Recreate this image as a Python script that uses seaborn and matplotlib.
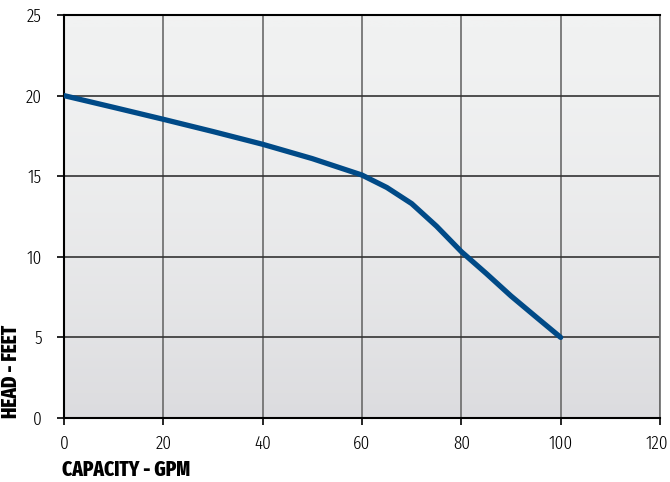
import numpy as np
import pandas as pd
import matplotlib
matplotlib.use("Agg")
import matplotlib.pyplot as plt
import matplotlib.transforms as mtransforms
import seaborn as sns
from matplotlib.colors import LinearSegmentedColormap

# Pump curve
capacity_gpm = [0, 10, 20, 30, 40, 50, 60, 65, 70, 75, 80, 85, 90, 95, 100]
head_feet = [20.0, 19.27, 18.53, 17.77, 16.98, 16.09, 15.07, 14.3, 13.3, 11.9, 10.32, 8.97, 7.57, 6.28, 5.0]
x_ticks = [0, 20, 40, 60, 80, 100, 120]
y_ticks = [0, 5, 10, 15, 20, 25]

curve = pd.DataFrame({"capacity": capacity_gpm, "head": head_feet})

sns.set_style("white")
plt.rcParams["font.family"] = ["Fira Sans Extra Condensed", "DejaVu Sans"]
plt.rcParams["text.color"] = "black"
plt.rcParams["xtick.color"] = "black"
plt.rcParams["ytick.color"] = "black"

fig = plt.figure(figsize=(6.7, 4.82), dpi=100)
ax = fig.add_axes([64 / 670, 1 - 418 / 482, 596 / 670, 403 / 482])

# gradient background, light at the top, darker at the bottom
grad = np.linspace(0, 1, 256).reshape(-1, 1) ** 1.6
cmap = LinearSegmentedColormap.from_list("bg", ["#f1f2f2", "#dcdcdf"])
ax.imshow(grad[::-1], extent=[0, 120, 0, 25], aspect="auto", cmap=cmap,
          origin="lower", zorder=0)

for v in x_ticks:
    ax.axvline(v, color="#6a6a6a", lw=1.2, zorder=1)
for v in y_ticks:
    ax.axhline(v, color="#333333", lw=1.2, zorder=1)

sns.lineplot(data=curve, x="capacity", y="head", ax=ax, color="#004a87",
             lw=3.8, solid_capstyle="round", solid_joinstyle="round", zorder=3)

ax.set_xlim(0, 120)
ax.set_ylim(0, 25)
ax.set_xticks(x_ticks)
ax.set_yticks(y_ticks)
ax.set_xlabel("")
ax.set_ylabel("")
ax.tick_params(axis="both", direction="out", length=5, width=1.2,
               labelsize=13.5, bottom=True, left=True)
ax.tick_params(axis="x", pad=7)
ax.tick_params(axis="y", pad=11)
for lbl in ax.get_xticklabels() + ax.get_yticklabels():
    lbl.set_fontweight(300)
for side in ["left", "bottom", "top"]:
    ax.spines[side].set_color("black")
    ax.spines[side].set_linewidth(1.5)
ax.spines["right"].set_color("#6a6a6a")
ax.spines["right"].set_linewidth(1.2)

# keep the last x label inside the figure
last = ax.get_xticklabels()[-1]
last.set_transform(last.get_transform() +
                   mtransforms.ScaledTranslation(-3 / 100, 0, fig.dpi_scale_trans))

fig.text(62 / 670, 1 - 470 / 482, "CAPACITY - GPM", fontsize=15,
         fontweight=800, ha="left", va="center")
fig.text(11 / 670, 1 - 418 / 482, "HEAD - FEET", fontsize=15,
         fontweight=800, rotation=90, ha="center", va="bottom")

fig.savefig("out.png", dpi=100)
